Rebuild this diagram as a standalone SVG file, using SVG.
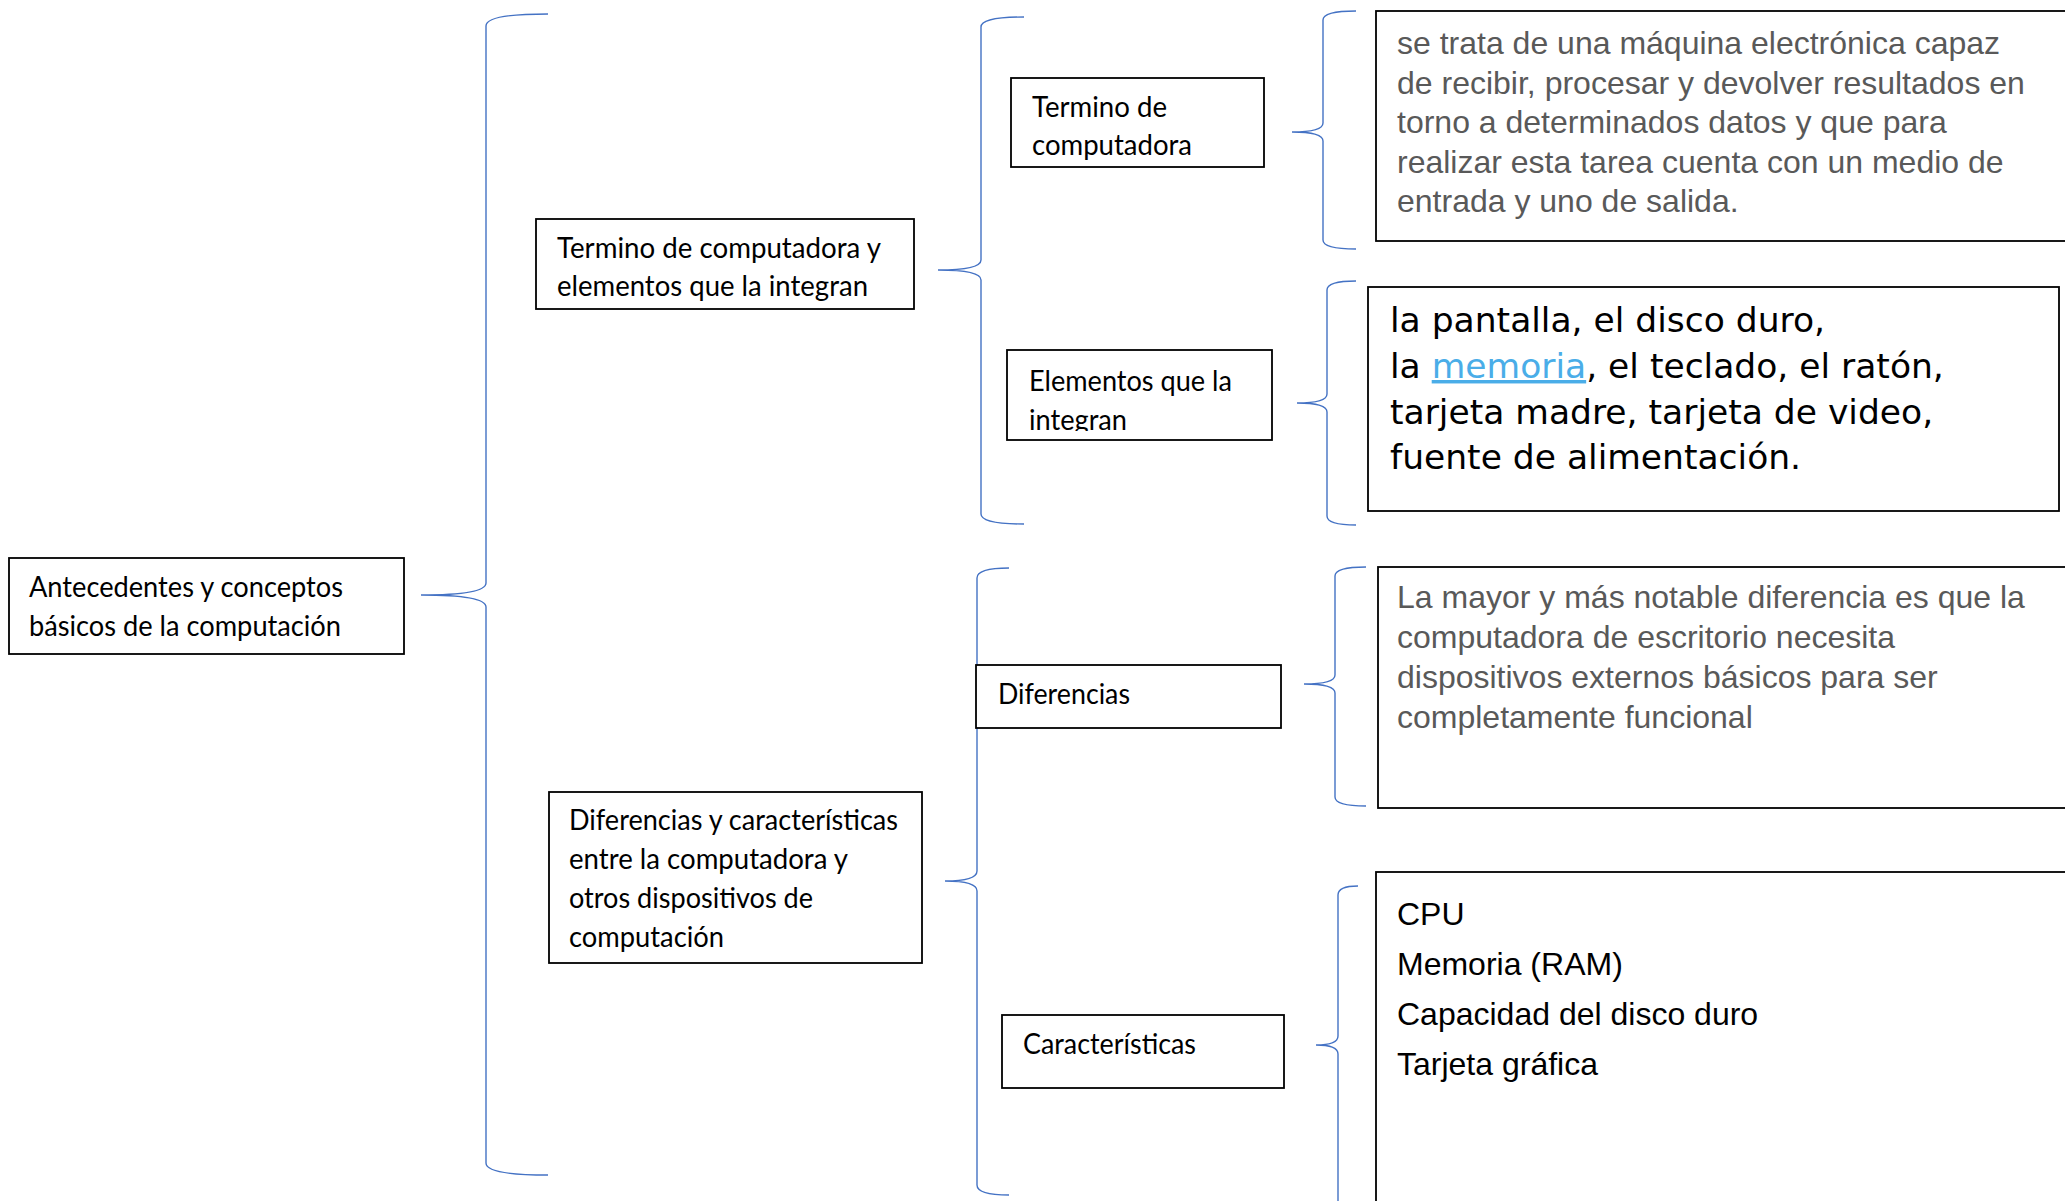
<svg xmlns="http://www.w3.org/2000/svg" width="2065" height="1201" viewBox="0 0 2065 1201">
<defs>
<style>
.box{fill:#fff;stroke:#000;stroke-width:1.8}
.brace{fill:none;stroke:#4472C4;stroke-width:1.4}
.cal{font-family:Lato,"Liberation Sans",sans-serif;font-size:28px;fill:#000}
.gray{font-family:"Liberation Sans",Arial,sans-serif;font-size:32px;fill:#595959}
.blk{font-family:"Liberation Sans",Arial,sans-serif;font-size:32px;fill:#000}
.dv{font-family:"DejaVu Sans",sans-serif;font-size:34.5px;fill:#000}
.link{fill:#4AADE8;text-decoration:underline}
</style>
<clipPath id="clipEI"><rect x="1000" y="350" width="280" height="81"/></clipPath>
</defs>
<rect width="2065" height="1201" fill="#fff"/>

<g id="connectors">
<path class="brace" d="M548,14 Q486,14 486,26 L486,583 Q486,595 421,595 Q486,595 486,607 L486,1163 Q486,1175 548,1175"/>
<path class="brace" d="M1024,17 Q981,17 981,27 L981,260 Q981,270 938,270 Q981,270 981,280 L981,514 Q981,524 1024,524"/>
<path class="brace" d="M1356,11 Q1323,11 1323,20 L1323,123 Q1323,132 1292,132 Q1323,132 1323,141 L1323,240 Q1323,249 1356,249"/>
<path class="brace" d="M1356,281 Q1327,281 1327,290 L1327,394 Q1327,403 1297,403 Q1327,403 1327,412 L1327,516 Q1327,525 1356,525"/>
<path class="brace" d="M1009,568 Q977,568 977,578 L977,871 Q977,881 945,881 Q977,881 977,891 L977,1185 Q977,1195 1009,1195"/>
<path class="brace" d="M1366,567 Q1335,567 1335,576 L1335,675 Q1335,684 1304,684 Q1335,684 1335,693 L1335,797 Q1335,806 1366,806"/>
<path class="brace" d="M1358,886 Q1338,886 1338,895 L1338,1036 Q1338,1045 1316,1045 Q1338,1045 1338,1054 L1338,1215"/>
</g>

<g id="node-root">
<rect class="box" x="9" y="558" width="395" height="96"/>
<text class="cal" x="29" y="597" textLength="314" lengthAdjust="spacingAndGlyphs">Antecedentes y conceptos</text>
<text class="cal" x="29" y="636" textLength="312" lengthAdjust="spacingAndGlyphs">básicos de la computación</text>
</g>

<g id="node-termino-elementos">
<rect class="box" x="536" y="219" width="378" height="90"/>
<text class="cal" x="557" y="258" textLength="324" lengthAdjust="spacingAndGlyphs">Termino de computadora y</text>
<text class="cal" x="557" y="296" textLength="311" lengthAdjust="spacingAndGlyphs">elementos que la integran</text>
</g>

<g id="node-termino">
<rect class="box" x="1011" y="78" width="253" height="89"/>
<text class="cal" x="1032" y="117" textLength="135" lengthAdjust="spacingAndGlyphs">Termino de</text>
<text class="cal" x="1032" y="155" textLength="160" lengthAdjust="spacingAndGlyphs">computadora</text>
</g>

<g id="node-elementos">
<rect class="box" x="1007" y="350" width="265" height="90"/>
<g clip-path="url(#clipEI)">
<text class="cal" x="1029" y="391" textLength="203" lengthAdjust="spacingAndGlyphs">Elementos que la</text>
<text class="cal" x="1029" y="430" textLength="98" lengthAdjust="spacingAndGlyphs">integran</text>
</g>
</g>

<g id="node-def">
<rect class="box" x="1376" y="11" width="720" height="230"/>
<text class="gray" x="1397" y="54">se trata de una máquina electrónica capaz</text>
<text class="gray" x="1397" y="93.5">de recibir, procesar y devolver resultados en</text>
<text class="gray" x="1397" y="133">torno a determinados datos y que para</text>
<text class="gray" x="1397" y="172.5">realizar esta tarea cuenta con un medio de</text>
<text class="gray" x="1397" y="212">entrada y uno de salida.</text>
</g>

<g id="node-lista">
<rect class="box" x="1368" y="287" width="691" height="224"/>
<text class="dv" x="1390" y="332">la pantalla, el disco duro,</text>
<text class="dv" x="1390" y="378">la <tspan class="link">memoria</tspan>, el teclado, el ratón,</text>
<text class="dv" x="1390" y="424">tarjeta madre, tarjeta de video,</text>
<text class="dv" x="1390" y="469">fuente de alimentación.</text>
</g>

<g id="node-dif-car">
<rect class="box" x="549" y="792" width="373" height="171"/>
<text class="cal" x="569" y="830" textLength="329" lengthAdjust="spacingAndGlyphs">Diferencias y características</text>
<text class="cal" x="569" y="869" textLength="279" lengthAdjust="spacingAndGlyphs">entre la computadora y</text>
<text class="cal" x="569" y="908" textLength="244" lengthAdjust="spacingAndGlyphs">otros dispositivos de</text>
<text class="cal" x="569" y="947" textLength="155" lengthAdjust="spacingAndGlyphs">computación</text>
</g>

<g id="node-diferencias">
<rect class="box" x="976" y="665" width="305" height="63"/>
<text class="cal" x="998" y="704" textLength="132" lengthAdjust="spacingAndGlyphs">Diferencias</text>
</g>

<g id="node-caracteristicas">
<rect class="box" x="1002" y="1015" width="282" height="73"/>
<text class="cal" x="1023" y="1054" textLength="173" lengthAdjust="spacingAndGlyphs">Características</text>
</g>

<g id="node-dif-texto">
<rect class="box" x="1378" y="567" width="720" height="241"/>
<text class="gray" x="1397" y="608">La mayor y más notable diferencia es que la</text>
<text class="gray" x="1397" y="648">computadora de escritorio necesita</text>
<text class="gray" x="1397" y="688">dispositivos externos básicos para ser</text>
<text class="gray" x="1397" y="728">completamente funcional</text>
</g>

<g id="node-car-texto">
<rect class="box" x="1376" y="872" width="720" height="400"/>
<text class="blk" x="1397" y="925">CPU</text>
<text class="blk" x="1397" y="975">Memoria (RAM)</text>
<text class="blk" x="1397" y="1025">Capacidad del disco duro</text>
<text class="blk" x="1397" y="1075">Tarjeta gráfica</text>
</g>
</svg>
